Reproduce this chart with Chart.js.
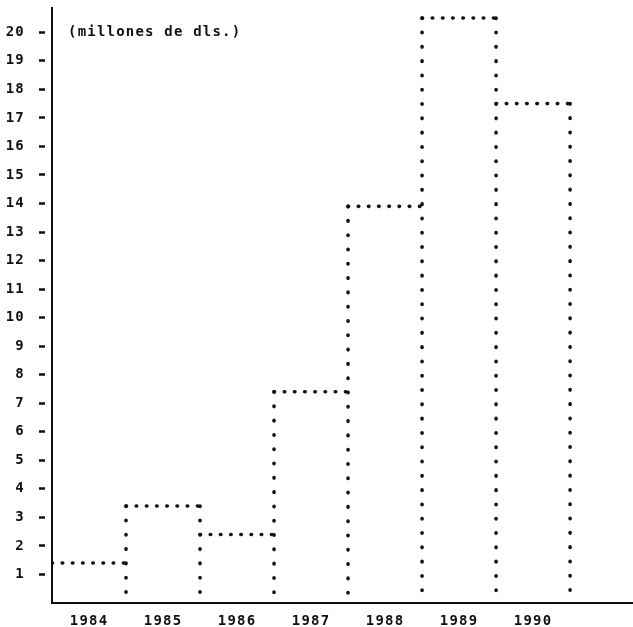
<!DOCTYPE html>
<html>
<head>
<meta charset="utf-8">
<script src="https://cdn.jsdelivr.net/npm/chart.js@4"></script>
<style>
  html, body { margin: 0; padding: 0; background: #fff; }
  #wrap { width: 633px; height: 627px; }
</style>
</head>
<body>
<div id="wrap"><canvas id="myChart"></canvas></div>
<script>
// data
const years = ["1984", "1985", "1986", "1987", "1988", "1989", "1990"];
const values = [1.4, 3.4, 2.4, 7.4, 13.9, 20.5, 17.5];
const yTicks = [1, 2, 3, 4, 5, 6, 7, 8, 9, 10, 11, 12, 13, 14, 15, 16, 17, 18, 19, 20];
const unitLabel = "(millones de dls.)";

const ink = "#111";
const fontFamily = "'DejaVu Sans Mono', 'Liberation Mono', monospace";
const monoFont = { family: fontFamily, size: 14, weight: "bold" };

// top edge of each bar (one short run per year, broken by a null point)
const topEdges = [];
values.forEach((v, i) => {
  topEdges.push({ x: i, y: v }, { x: i + 1, y: v }, { x: i + 1, y: null });
});

// vertical edges between bars, from the taller neighbour down to zero
const sideEdges = [];
for (let b = 1; b <= values.length; b++) {
  const top = Math.max(values[b - 1], values[b] || 0);
  sideEdges.push({ x: b, y: top }, { x: b, y: 0 }, { x: b, y: null });
}

const unitText = {
  id: "unitText",
  beforeDraw(chart) {
    chart.ctx.letterSpacing = "1.2px";
  },
  afterDraw(chart) {
    const { ctx, chartArea, scales } = chart;
    ctx.save();
    ctx.font = "bold 14px " + fontFamily;
    ctx.fillStyle = ink;
    ctx.textBaseline = "middle";
    ctx.textAlign = "left";
    ctx.fillText(unitLabel, chartArea.left + 16, scales.y.getPixelForValue(20));
    ctx.restore();
  },
};

const canvas = document.getElementById("myChart").getContext("2d");
let dataChart = new Chart(canvas, {
  type: "scatter",
  data: {
    datasets: [
      {
        label: "tops",
        data: topEdges,
        showLine: true,
        spanGaps: false,
        borderColor: ink,
        borderWidth: 3.6,
        borderDash: [0.5, 9.7],
        borderCapStyle: "round",
        pointRadius: 0,
      },
      {
        label: "sides",
        data: sideEdges,
        showLine: true,
        spanGaps: false,
        borderColor: ink,
        borderWidth: 3.6,
        borderDash: [0.5, 13.8],
        borderCapStyle: "round",
        pointRadius: 0,
      },
    ],
  },
  options: {
    responsive: true,
    maintainAspectRatio: false,
    animation: false,
    layout: { padding: { top: 8, left: 0, right: 0, bottom: 0 } },
    plugins: { legend: { display: false }, tooltip: { enabled: false } },
    scales: {
      x: {
        type: "linear",
        min: 0,
        max: 7.85,
        afterBuildTicks: (s) => {
          s.ticks = years.map((y, i) => ({ value: i + 0.5 }));
        },
        afterFit: (s) => {
          s.height = 24;
          s.paddingLeft = 0;
          s.paddingRight = 0;
        },
        ticks: {
          autoSkip: false,
          maxRotation: 0,
          padding: 10,
          color: ink,
          font: monoFont,
          callback: (v, i) => years[i],
        },
        grid: { drawOnChartArea: false, drawTicks: false },
        border: { display: true, color: ink, width: 2 },
      },
      y: {
        min: 0,
        max: 20.85,
        afterBuildTicks: (s) => {
          s.ticks = yTicks.map((v) => ({ value: v }));
        },
        afterFit: (s) => {
          s.width = 52;
          s.paddingTop = 0;
          s.paddingBottom = 0;
        },
        ticks: {
          autoSkip: false,
          padding: 14,
          color: ink,
          font: monoFont,
        },
        grid: {
          drawOnChartArea: false,
          tickLength: 13,
          tickWidth: 2.5,
          tickColor: ink,
          tickBorderDash: [6, 20],
        },
        border: { display: true, color: ink, width: 2 },
      },
    },
  },
  plugins: [unitText],
});
</script>
</body>
</html>
